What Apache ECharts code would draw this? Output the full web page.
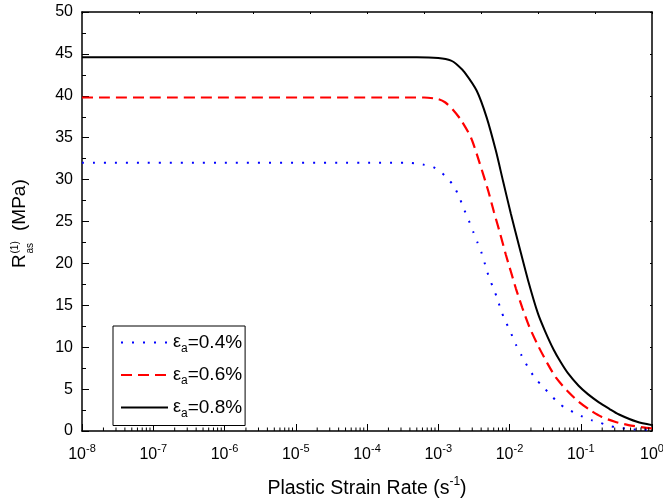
<!DOCTYPE html>
<html>
<head>
<meta charset="utf-8">
<script src="https://cdn.jsdelivr.net/npm/echarts@6/dist/echarts.min.js"></script>
<style>
html,body{margin:0;padding:0;background:#fff;}
#chart{width:663px;height:502px;}
</style>
</head>
<body>
<div id="chart"></div>
<script>
// ---- data (log10 of plastic strain rate, R value in MPa) ----
const seriesNames = ['ea04', 'ea06', 'ea08'];
const legendLabels = ['=0.4%', '=0.6%', '=0.8%'];

const exp04 = [-8,-3.4,-3.22,-3.07,-2.91,-2.78,-2.70,-2.64,-2.57,-2.51,-2.45,-2.39,-2.34,-2.29,-2.23,-2.17,-2.12,-2.05,-1.98,-1.91,-1.83,-1.74,-1.64,-1.51,-1.41,-1.32,-1.21,-1.09,-0.97,-0.85,-0.73,-0.62,-0.47,-0.33,-0.14,0];
const val04 = [32.0,32.0,31.8,31.5,30.5,29.2,27.8,26.5,25.1,23.8,22.5,21.2,19.8,18.4,17.1,15.8,14.4,13.0,11.7,10.3,9.0,7.6,6.3,5.1,4.2,3.4,2.7,2.2,1.7,1.3,1.0,0.65,0.4,0.25,0.12,0.1];

const exp06 = [-8,-3.2,-3.0,-2.90,-2.80,-2.68,-2.54,-2.42,-2.30,-2.22,-2.13,-2.05,-1.98,-1.91,-1.82,-1.72,-1.60,-1.47,-1.35,-1.18,-1.03,-0.87,-0.71,-0.52,-0.33,-0.1,0];
const val06 = [39.8,39.8,39.6,39.2,38.4,37.1,35.0,32.0,28.7,26.2,23.5,21.0,19.0,17.0,14.7,12.4,10.2,8.1,6.4,4.7,3.5,2.5,1.7,1.1,0.7,0.4,0.3];

const exp08 = [-8,-3.3,-3.0,-2.82,-2.72,-2.63,-2.46,-2.32,-2.19,-2.09,-1.98,-1.86,-1.74,-1.60,-1.50,-1.38,-1.28,-1.18,-1.03,-0.90,-0.75,-0.60,-0.47,-0.21,0];
const val08 = [44.6,44.6,44.5,44.2,43.6,42.8,40.6,37.4,33.4,29.8,25.9,21.9,18.0,14.0,11.9,9.7,8.2,6.9,5.4,4.4,3.45,2.65,2.0,1.1,0.7];

// axis ticks
const decadeExps = [-8,-7,-6,-5,-4,-3,-2,-1];
const minorMultipliers = [2,3,4,5,6,7,8,9];

const FONT = '"Liberation Sans", Arial, sans-serif';

function toPoints(exps, vals) {
  return exps.map((e, i) => [Math.pow(10, e), vals[i]]);
}
const minorTickData = [];
decadeExps.forEach(e => minorMultipliers.forEach(m => minorTickData.push([m * Math.pow(10, e), 0])));

const chart = echarts.init(document.getElementById('chart'), null, {renderer: 'canvas'});

const option = {
  animation: false,
  backgroundColor: '#fff',
  textStyle: {fontFamily: FONT, color: '#000'},
  grid: {left: 82, right: 11, top: 12, bottom: 71, containLabel: false, outerBoundsMode: 'none'},
  legend: {
    orient: 'vertical',
    left: 113, top: 326,
    padding: [7, 3, 6, 7],
    itemGap: 11,
    itemWidth: 47,
    itemHeight: 14,
    borderColor: '#000',
    borderWidth: 1,
    borderRadius: 0,
    backgroundColor: '#fff',
    selectedMode: false,
    itemStyle: {opacity: 0},
    data: seriesNames,
    formatter: function (name) {
      const i = seriesNames.indexOf(name);
      return '{e|\u03b5}{s|a}{t|' + legendLabels[i] + '}';
    },
    textStyle: {
      fontFamily: FONT, color: '#000', fontSize: 19,
      rich: {
        e: {fontFamily: FONT, fontSize: 18, lineHeight: 24, color: '#000'},
        s: {fontFamily: FONT, fontSize: 12, lineHeight: 6, verticalAlign: 'bottom', color: '#000'},
        t: {fontFamily: FONT, fontSize: 19, lineHeight: 24, color: '#000'}
      }
    }
  },
  xAxis: [{
    type: 'log',
    logBase: 10,
    min: 1e-8,
    max: 1,
    interval: 1,
    splitNumber: 8,
    position: 'bottom',
    axisLine: {show: true, onZero: false, lineStyle: {color: '#000', width: 1.5}},
    axisTick: {show: true, inside: true, length: 7, lineStyle: {color: '#000', width: 1}},
    minorTick: {show: false},
    splitLine: {show: false},
    axisLabel: {
      margin: 12,
      color: '#000',
      fontFamily: FONT,
      fontSize: 16,
      formatter: function (v) {
        const e = Math.round(Math.log10(v));
        return '{b|10}{sup|' + e + '}';
      },
      rich: {
        b: {fontFamily: FONT, fontSize: 16, lineHeight: 24, color: '#000'},
        sup: {fontFamily: FONT, fontSize: 11, lineHeight: 11, verticalAlign: 'top', color: '#000'}
      }
    },
    name: '{m|Plastic Strain Rate (s}{sup|-1}{m|)}',
    nameLocation: 'middle',
    nameGap: 45,
    nameTextStyle: {
      fontFamily: FONT, color: '#000', fontSize: 19.5,
      rich: {
        m: {fontFamily: FONT, fontSize: 19.5, lineHeight: 26, color: '#000'},
        sup: {fontFamily: FONT, fontSize: 12, lineHeight: 12, verticalAlign: 'top', color: '#000'}
      }
    }
  }, {
    type: 'value',
    min: 0, max: 10, interval: 1,
    position: 'top',
    axisLine: {show: true, onZero: false, lineStyle: {color: '#000', width: 1.5}},
    axisTick: {show: true, inside: true, length: 2, lineStyle: {color: '#000', width: 1}},
    axisLabel: {show: false},
    splitLine: {show: false}
  }],
  yAxis: [{
    type: 'value',
    min: 0, max: 50, interval: 5,
    position: 'left',
    axisLine: {show: true, onZero: false, lineStyle: {color: '#000', width: 1.5}},
    axisTick: {show: true, inside: true, length: 7, lineStyle: {color: '#000', width: 1}},
    minorTick: {show: true, splitNumber: 2, length: 4, lineStyle: {color: '#000', width: 1}},
    splitLine: {show: false},
    axisLabel: {margin: 9, color: '#000', fontFamily: FONT, fontSize: 16}
  }, {
    type: 'value',
    min: 0, max: 50, interval: 5,
    position: 'right',
    axisLine: {show: true, onZero: false, lineStyle: {color: '#000', width: 1.5}},
    axisTick: {show: true, inside: true, length: 2, lineStyle: {color: '#000', width: 1}},
    axisLabel: {show: false},
    splitLine: {show: false}
  }],
  graphic: [{
    type: 'group',
    x: 19.5, y: 268,
    rotation: Math.PI / 2,
    children: [
      {type: 'text', x: 0, y: 0, style: {text: 'R', fontFamily: FONT, fontSize: 19, fill: '#000', align: 'left', verticalAlign: 'middle'}},
      {type: 'text', x: 14.5, y: -4.5, style: {text: '(1)', fontFamily: FONT, fontSize: 10, fill: '#000', align: 'left', verticalAlign: 'middle'}},
      {type: 'text', x: 14.5, y: 11, style: {text: 'as', fontFamily: FONT, fontSize: 10, fill: '#000', align: 'left', verticalAlign: 'middle'}},
      {type: 'text', x: 37, y: 0, style: {text: '(MPa)', fontFamily: FONT, fontSize: 19, fill: '#000', align: 'left', verticalAlign: 'middle'}}
    ]
  }],
  series: [{
    name: seriesNames[0],
    type: 'line',
    xAxisIndex: 0, yAxisIndex: 0,
    symbol: 'none',
    smooth: 0.25,
    data: toPoints(exp04, val04),
    lineStyle: {color: '#0000ff', width: 2, type: [2, 9]},
    itemStyle: {color: '#0000ff'},
    z: 3
  }, {
    name: seriesNames[1],
    type: 'line',
    xAxisIndex: 0, yAxisIndex: 0,
    symbol: 'none',
    smooth: 0.25,
    data: toPoints(exp06, val06),
    lineStyle: {color: '#ff0000', width: 2.2, type: [11, 6]},
    itemStyle: {color: '#ff0000'},
    z: 4
  }, {
    name: seriesNames[2],
    type: 'line',
    xAxisIndex: 0, yAxisIndex: 0,
    symbol: 'none',
    smooth: 0.25,
    data: toPoints(exp08, val08),
    lineStyle: {color: '#000000', width: 2, type: 'solid'},
    itemStyle: {color: '#000000'},
    z: 5
  }, {
    name: 'minorTicks',
    type: 'custom',
    xAxisIndex: 0, yAxisIndex: 0,
    silent: true,
    clip: false,
    data: minorTickData,
    renderItem: function (params, api) {
      const p = api.coord([api.value(0), api.value(1)]);
      return {
        type: 'line',
        shape: {x1: p[0], y1: p[1], x2: p[0], y2: p[1] - 3.5},
        style: {stroke: '#000', lineWidth: 1}
      };
    },
    z: 6
  }]
};
chart.setOption(option);
</script>
</body>
</html>
